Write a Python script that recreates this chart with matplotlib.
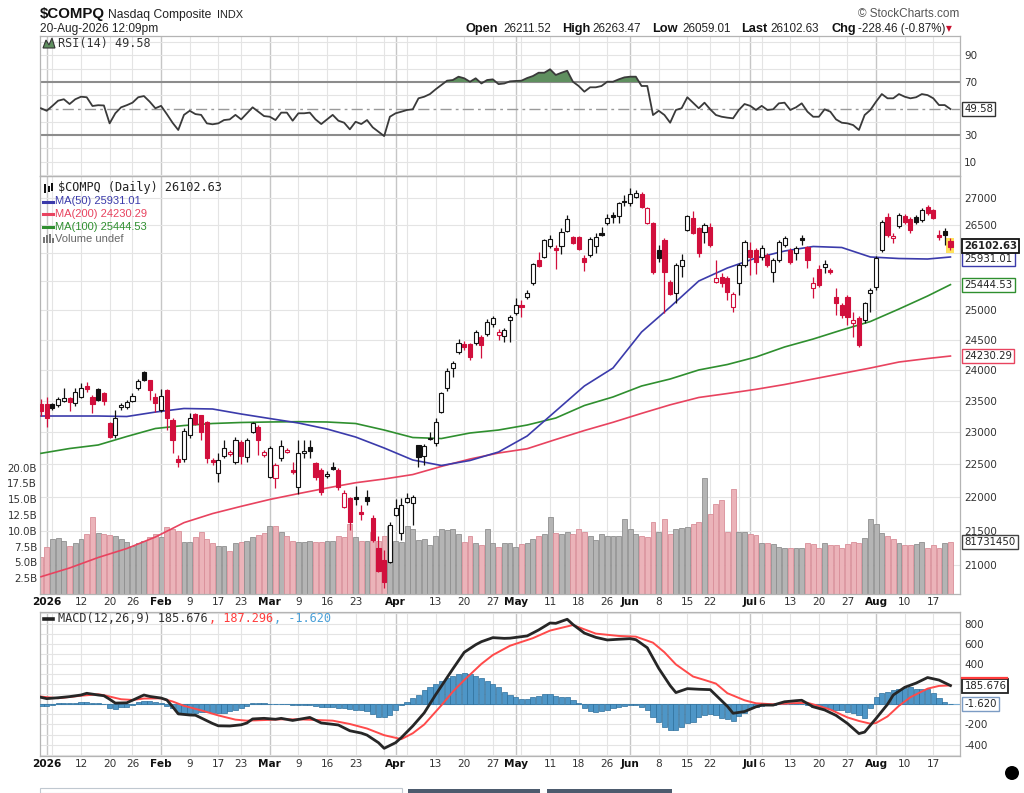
import numpy as np
import pandas as pd
import matplotlib
matplotlib.use("Agg")
import matplotlib.pyplot as plt
import matplotlib.transforms as mtrans
from matplotlib.patches import Rectangle, Ellipse, Polygon
from matplotlib.lines import Line2D
from matplotlib.ticker import NullLocator, NullFormatter

# ------------------------------------------------------------------ data
START, END = "2025-12-31", "2026-08-20"
HOLIDAYS = ["2026-01-01", "2026-01-19", "2026-02-16", "2026-04-03",
            "2026-05-25", "2026-06-19", "2026-07-03"]

OPEN = [
    23447, 23447, 23447, 23431, 23495, 23544, 23463, 23560, 23738, 23560,
    23689, 23624, 23143, 22954, 23399, 23399, 23495, 23705, 23966, 23835,
    23560, 23351, 23673, 23191, 22580, 22580, 22954, 23287, 23271, 23159,
    22564, 22364, 22626, 22657, 22533, 22844, 22611, 23001, 23080, 22642,
    22303, 22288, 22595, 22688, 22410, 22151, 22673, 22766, 22518, 22410,
    22318, 22456, 22410, 21849, 21985, 22000, 21775, 22000, 21686, 21244,
    21070, 21041, 21730, 21464, 21925, 21910, 22797, 22626, 22891, 22829,
    23319, 23705, 24032, 24297, 24430, 24430, 24447, 24548, 24599, 24767,
    24582, 24565, 24835, 24955, 25092, 25230, 25473, 25877, 25930, 26127,
    26091, 26127, 26397, 26288, 26288, 25913, 25966, 26127, 26361, 26541,
    26687, 26669, 26945, 26908, 27019, 27074, 26541, 26541, 26055, 26234,
    25490, 25299, 25771, 26415, 26632, 26451, 26379, 26469, 25490, 25578,
    25560, 25058, 25473, 25789, 26055, 26055, 25930, 25966, 25666, 25877,
    26145, 26055, 26001, 26270, 26109, 25386, 25718, 25754, 25701, 25230,
    25092, 25230, 24784, 24869, 24835, 25299, 25403, 26055, 26650, 26270,
    26487, 26669, 26614, 26650, 26596, 26834, 26779, 26324, 26397, 26211.52]
HIGH = [
    23527, 23560, 23463, 23560, 23705, 23560, 23705, 23786, 23802, 23592,
    23705, 23641, 23159, 23351, 23463, 23511, 23624, 23851, 23983, 23835,
    23624, 23689, 23689, 23223, 22642, 23064, 23303, 23303, 23271, 23175,
    22595, 22673, 22876, 22719, 22923, 22876, 22907, 23159, 23112, 22719,
    22782, 22518, 22876, 22750, 22533, 22876, 22876, 22876, 22533, 22441,
    22395, 22533, 22441, 22105, 22000, 22166, 21879, 22105, 21730, 21420,
    21215, 21626, 21970, 21985, 22060, 22030, 22800, 22813, 23001, 23223,
    23641, 24032, 24148, 24514, 24481, 24447, 24666, 24582, 24852, 24904,
    24683, 24700, 24921, 25213, 25178, 25351, 25824, 26019, 26252, 26324,
    26145, 26451, 26687, 26306, 26306, 25966, 26288, 26361, 26469, 26705,
    26742, 26926, 27056, 27185, 27148, 27111, 26834, 26560, 26145, 26270,
    25525, 25824, 25984, 26687, 26761, 26469, 26541, 26541, 25877, 25648,
    25596, 25316, 25824, 26234, 26198, 26091, 26145, 26001, 25913, 26234,
    26306, 26091, 26127, 26324, 26127, 25578, 25789, 25877, 25736, 25386,
    25126, 25264, 24972, 24904, 25143, 25386, 25948, 26596, 26724, 26361,
    26724, 26705, 26650, 26687, 26816, 26871, 26797, 26415, 26451, 26263.47]
LOW = [
    23255, 23080, 23351, 23399, 23479, 23335, 23415, 23544, 23641, 23303,
    23495, 23431, 22907, 22907, 23351, 23367, 23479, 23673, 23819, 23511,
    23319, 23319, 23033, 22673, 22456, 22533, 22907, 23112, 22876, 22518,
    22487, 22227, 22595, 22626, 22502, 22502, 22533, 22986, 22642, 22611,
    22288, 22135, 22549, 22673, 22349, 22045, 22595, 22595, 22257, 22030,
    22288, 22410, 22105, 21835, 21508, 21879, 21656, 21879, 21332, 20899,
    20670, 21027, 21715, 21361, 21910, 21582, 22456, 22487, 22876, 22782,
    23303, 23657, 23884, 24264, 24330, 24164, 24414, 24198, 24565, 24716,
    24497, 24464, 24464, 24921, 24886, 25195, 25438, 25754, 25913, 26091,
    25718, 25984, 26379, 26163, 26055, 25683, 25930, 26001, 26306, 26505,
    26541, 26541, 26853, 26853, 27000, 26816, 26523, 25631, 25842, 24955,
    25264, 25126, 25578, 26397, 26342, 25930, 26181, 26109, 25473, 25403,
    25178, 24972, 25264, 25754, 25613, 25631, 25877, 25754, 25490, 25842,
    26109, 25807, 25877, 26145, 25736, 25213, 25403, 25648, 25631, 24921,
    24869, 24750, 24548, 24380, 24784, 24972, 25351, 26019, 26288, 26181,
    26451, 26523, 26361, 26523, 26560, 26687, 26614, 26234, 26145, 26059.01]
CLOSE = [
    23335, 23223, 23383, 23527, 23544, 23479, 23641, 23705, 23689, 23447,
    23511, 23495, 22923, 23223, 23431, 23479, 23576, 23819, 23835, 23673,
    23463, 23576, 23223, 22876, 22533, 23017, 23223, 23128, 23001, 22595,
    22533, 22564, 22750, 22688, 22876, 22626, 22876, 23143, 22876, 22688,
    22750, 22487, 22782, 22719, 22379, 22673, 22704, 22711, 22303, 22075,
    22349, 22426, 22151, 22060, 21626, 21970, 21745, 21940, 21361, 20913,
    20756, 21582, 21835, 21879, 21985, 22000, 22611, 22782, 22907, 23159,
    23624, 23983, 24115, 24447, 24380, 24214, 24632, 24414, 24801, 24869,
    24632, 24666, 24886, 25092, 25058, 25299, 25806, 25771, 26234, 26252,
    26055, 26379, 26614, 26181, 26073, 25842, 26252, 26288, 26324, 26632,
    26650, 26908, 26926, 27074, 27093, 26834, 26816, 25666, 25913, 25666,
    25282, 25789, 25877, 26669, 26361, 26001, 26505, 26145, 25560, 25473,
    25316, 25282, 25789, 26198, 25930, 25842, 26091, 25789, 25877, 26198,
    26270, 25842, 26091, 26234, 25877, 25473, 25438, 25807, 25666, 25126,
    24921, 24886, 24835, 24414, 25126, 25351, 25913, 26560, 26324, 26306,
    26687, 26560, 26415, 26560, 26779, 26724, 26632, 26288, 26331.09, 26102.63]
VOLUME_B = [
    5.8, 7.4, 8.7, 8.9, 8.4, 7.6, 8.0, 8.7, 9.5, 12.2,
    9.6, 9.5, 9.4, 9.2, 8.7, 8.2, 7.6, 8.0, 8.4, 9.0,
    9.5, 9.0, 10.6, 10.3, 9.9, 8.2, 8.2, 9.0, 9.8, 8.7,
    8.0, 7.6, 7.6, 6.8, 8.0, 8.2, 8.4, 9.0, 9.4, 9.6,
    10.8, 10.8, 9.8, 9.2, 8.4, 8.2, 8.2, 8.4, 8.2, 8.2,
    8.4, 8.4, 9.2, 9.0, 11.1, 9.0, 8.4, 8.4, 9.8, 8.4,
    9.2, 10.8, 8.4, 8.2, 10.8, 10.3, 8.6, 8.7, 7.8, 9.1,
    10.2, 10.1, 10.2, 9.5, 8.3, 9.2, 8.0, 7.8, 10.2, 8.0,
    7.4, 8.1, 8.0, 7.4, 7.9, 8.0, 8.7, 9.1, 9.5, 12.1,
    9.6, 9.5, 9.8, 9.5, 10.3, 9.8, 9.2, 8.6, 9.5, 9.2,
    9.1, 9.1, 11.8, 10.2, 9.5, 9.2, 9.0, 11.4, 9.8, 11.9,
    9.5, 10.2, 10.5, 10.6, 11.0, 11.4, 18.3, 12.7, 14.3, 14.9,
    9.8, 16.6, 9.8, 9.8, 9.5, 9.4, 8.0, 8.1, 7.9, 7.4,
    7.2, 7.2, 7.3, 7.3, 8.1, 7.9, 7.2, 8.0, 7.7, 7.7,
    7.2, 7.9, 8.3, 8.1, 8.9, 11.9, 11.1, 9.6, 9.1, 8.7,
    8.0, 7.7, 7.7, 7.9, 8.3, 7.2, 7.7, 7.2, 8.1, 8.2]
RSI = [
    50.2, 48.3, 52.0, 55.9, 57.0, 53.4, 57.0, 58.9, 58.5, 51.9,
    52.5, 52.3, 38.8, 46.4, 50.9, 52.5, 54.4, 58.5, 59.4, 55.2,
    50.2, 52.0, 45.8, 39.3, 33.8, 45.2, 48.3, 45.8, 45.2, 38.8,
    38.1, 38.8, 41.3, 41.8, 45.2, 41.8, 46.4, 50.9, 47.6, 44.3,
    43.8, 41.3, 46.9, 46.9, 40.8, 46.4, 46.4, 46.9, 41.8, 38.3,
    41.8, 45.2, 40.8, 39.3, 34.3, 40.0, 38.3, 41.3, 35.8, 32.5,
    29.2, 43.8, 46.4, 47.6, 48.9, 49.4, 57.7, 58.9, 60.9, 64.5,
    67.7, 71.0, 71.5, 74.0, 72.8, 70.2, 72.8, 68.9, 71.5, 72.0,
    68.4, 68.9, 70.5, 70.8, 71.0, 73.0, 74.5, 77.0, 77.0, 79.6,
    75.3, 77.0, 78.5, 70.2, 67.0, 62.7, 66.0, 66.0, 67.0, 70.2,
    70.2, 72.0, 73.5, 74.0, 74.0, 67.0, 67.0, 45.1, 48.3, 45.1,
    39.3, 48.9, 50.2, 58.5, 54.4, 50.2, 54.4, 49.4, 45.1, 43.8,
    43.1, 42.6, 48.9, 53.4, 52.0, 48.9, 52.0, 48.9, 49.4, 53.9,
    54.4, 48.9, 50.9, 53.9, 47.6, 43.8, 43.8, 49.4, 47.6, 41.8,
    39.3, 38.8, 37.5, 33.8, 45.1, 48.9, 55.2, 60.9, 57.7, 57.7,
    60.9, 58.9, 57.7, 58.5, 60.9, 60.1, 57.7, 52.6, 52.6, 49.58]

MA_IDX = [-1, 4, 9, 14, 19, 24, 29, 34, 39, 44, 49, 54, 59, 64, 69, 74, 79,
          84, 89, 94, 99, 104, 109, 114, 119, 124, 129, 134, 139, 144, 149, 154, 158]
MA50 = [23255, 23255, 23255, 23247, 23318, 23375, 23367, 23287, 23215, 23144,
        23049, 22923, 22751, 22565, 22480, 22557, 22689, 22939, 23335, 23738,
        24032, 24632, 25058, 25508, 25736, 25913, 26037, 26118, 26100, 25931,
        25904, 25895, 25931.01]
MA100 = [22668, 22743, 22798, 22931, 23057, 23104, 23136, 23152, 23160, 23165,
         23160, 23136, 23033, 22915, 22899, 22986, 23033, 23112, 23223, 23423,
         23560, 23738, 23852, 24000, 24090, 24214, 24381, 24514, 24666, 24810,
         25023, 25247, 25444.53]
MA200 = [20831, 20956, 21107, 21237, 21405, 21617, 21752, 21860, 21963, 22051,
         22136, 22216, 22273, 22341, 22466, 22580, 22673, 22740, 22884, 23025,
         23155, 23297, 23434, 23552, 23616, 23684, 23762, 23852, 23942, 24032,
         24131, 24189, 24230.29]

MACD_IDX = [-1, 0, 2, 4, 6, 7, 9, 10, 11, 12, 14, 15, 17, 18, 20, 21, 22, 23, 25, 26,
            27, 29, 30, 32, 34, 35, 36, 38, 40, 41, 43, 44, 46, 48, 50, 51, 53, 55, 56, 58,
            59, 61, 62, 64, 66, 68, 69, 71, 73, 75, 76, 78, 80, 81, 84, 86, 88, 89, 91, 92,
            94, 96, 98, 100, 102, 103, 105, 107, 109, 110, 112, 114, 116, 117, 119, 120, 122,
            124, 125, 127, 129, 131, 132, 134, 136, 138, 140, 142, 143, 145, 147, 148, 150,
            152, 154, 156, 158]
MACD_VAL = [69, 56, 65, 76, 92, 109, 92, 85, 50, 12, 15, 40, 92, 78, 62, 43, -23, -95, -106, -108,
            -135, -190, -213, -215, -203, -185, -145, -139, -148, -139, -160, -150, -130, -185, -198, -205, -262, -285, -305, -380,
            -436, -380, -330, -215, -85, 95, 180, 350, 515, 590, 620, 660, 653, 655, 677, 736, 805, 802, 842, 790,
            705, 663, 637, 644, 650, 640, 560, 356, 185, 116, 155, 149, 145, 90, -20, -89, -72,
            -25, -8, -8, 25, 36, 40, -25, -56, -110, -190, -290, -275, -140, 0, 92, 168,
            210, 265, 240, 185.676]
SIGNAL_IDX = [-1, 2, 6, 9, 10, 13, 15, 17, 20, 22, 24, 27, 30, 33, 35, 38, 41, 44, 47, 50,
              53, 56, 59, 62, 64, 66, 69, 71, 73, 76, 78, 81, 85, 88, 92, 96, 100, 103, 106, 108,
              110, 113, 115, 117, 119, 122, 124, 127, 130, 133, 135, 137, 140, 142, 144, 145, 147, 149,
              151, 154, 156, 158]
SIGNAL_VAL = [76, 60, 85, 99, 90, 50, 43, 57, 59, 28, -15, -60, -110, -152, -162, -156, -149, -149, -155, -162,
              -195, -240, -306, -345, -287, -200, -10, 125, 240, 400, 488, 580, 655, 730, 785, 700, 677, 670, 610, 515,
              395, 275, 241, 205, 110, 40, 10, 0, 10, 15, -17, -52, -130, -165, -192, -185, -120, -15,
              70, 155, 182, 187.296]
HIST = [
    -16, -16, -10, 10, 15, 16, 16, 20, 22, 16,
    12, 5, -35, -50, -30, -23, -10, 20, 33, 33,
    20, 10, -20, -40, -80, -89, -83, -83, -73, -75,
    -85, -89, -85, -70, -56, -35, -15, 10, 16, 12,
    5, 0, 3, 3, -5, -3, -5, -10, -20, -30,
    -30, -28, -32, -35, -50, -56, -56, -70, -100, -122,
    -122, -106, -56, -7, 26, 59, 92, 142, 168, 201,
    234, 257, 281, 300, 307, 300, 281, 257, 231, 201,
    168, 125, 92, 76, 50, 55, 76, 80, 99, 99,
    80, 76, 76, 43, 10, -33, -66, -73, -66, -56,
    -40, -30, -20, -10, -10, -23, -56, -122, -172, -221,
    -254, -254, -221, -190, -172, -130, -106, -100, -110, -139,
    -150, -162, -120, -89, -40, -30, -17, -10, -5, 0,
    5, 5, 3, 0, -10, -25, -30, -40, -50, -56,
    -60, -75, -89, -110, -139, -40, 76, 110, 125, 140,
    149, 160, 168, 155, 149, 149, 109, 59, 26, -1.62]

PRICE_TICKS = [21000, 21500, 22000, 22500, 23000, 23500, 24000, 24500,
               25000, 25500, 26000, 26500, 27000]
PRICE_LABELED = [21000, 21500, 22000, 22500, 23000, 23500, 24000, 24500,
                 25000, 26500, 27000]
VOL_TICKS = [2.5, 5.0, 7.5, 10.0, 12.5, 15.0, 17.5, 20.0]
RSI_TICKS = [10, 30, 70, 90]
MACD_TICKS = [-400, -200, 400, 600, 800]
TICK_LABELS = [
    ("2026-01-02", "2026"), ("2026-01-12", "12"), ("2026-01-20", "20"), ("2026-01-26", "26"),
    ("2026-02-02", "Feb"), ("2026-02-09", "9"), ("2026-02-17", "17"), ("2026-02-23", "23"),
    ("2026-03-02", "Mar"), ("2026-03-09", "9"), ("2026-03-16", "16"), ("2026-03-23", "23"),
    ("2026-04-01", "Apr"), ("2026-04-13", "13"), ("2026-04-20", "20"), ("2026-04-27", "27"),
    ("2026-05-01", "May"), ("2026-05-11", "11"), ("2026-05-18", "18"), ("2026-05-26", "26"),
    ("2026-06-01", "Jun"), ("2026-06-08", "8"), ("2026-06-15", "15"), ("2026-06-22", "22"),
    ("2026-07-01", "Jul"), ("2026-07-06", "6"), ("2026-07-13", "13"), ("2026-07-20", "20"),
    ("2026-07-27", "27"), ("2026-08-03", "Aug"), ("2026-08-10", "10"), ("2026-08-17", "17")]

# ------------------------------------------------------------------ prep
dates = [d for d in pd.bdate_range(START, END) if d.strftime("%Y-%m-%d") not in HOLIDAYS]
xs = np.arange(len(dates)) - 1
pos_of = {d.strftime("%Y-%m-%d"): x for d, x in zip(dates, xs)}

O = np.array(OPEN, float); Hh = np.array(HIGH, float)
Lw = np.array(LOW, float); C = np.array(CLOSE, float)
prev = np.concatenate([[O[0]], C[:-1]])
up = C >= prev
hollow = C > O
RED = "#d10f3c"
BLK = "#111111"
edge = np.where(up, BLK, RED)
face = ["white" if h else e for h, e in zip(hollow, edge)]

FW, FH = 1024.0, 793.0
def fx(px):
    return px / FW
def fy(py):
    return 1 - py / FH

GRID_C = "#e4e4e4"
MONTH_C = "#c6c6c6"
SPINE_C = "#b4b4b4"
BLUE = "#3b3bab"
GREEN = "#2f8f2f"
PINKRED = "#e8435f"

fig = plt.figure(figsize=(10.24, 7.93), dpi=100)
fig.patch.set_facecolor("white")
L0, W0 = fx(40), 920 / FW
axv = fig.add_axes([L0, fy(594), W0, 418 / FH])
axr = fig.add_axes([L0, fy(176), W0, 140 / FH], sharex=axv)
axp = fig.add_axes([L0, fy(594), W0, 418 / FH], sharex=axv)
axm = fig.add_axes([L0, fy(756), W0, 144 / FH], sharex=axv)
axp.patch.set_visible(False)

axv.set_xlim(-1.17, 159.67)
axv.set_xticks([])

# vertical grid lines
week_lines, month_lines = [], []
for k in range(1, len(dates)):
    d0, d1 = dates[k - 1], dates[k]
    if d1.month != d0.month:
        month_lines.append(xs[k])
    elif d1.weekday() < d0.weekday():
        week_lines.append(xs[k])
for ax in (axr, axv, axm):
    for x in week_lines:
        ax.axvline(x, color=GRID_C, lw=0.8, zorder=0)
    for x in month_lines:
        ax.axvline(x, color=MONTH_C, lw=1.0, zorder=0)

for ax in (axr, axv, axm):
    for s in ax.spines.values():
        s.set_color(SPINE_C)
        s.set_linewidth(0.9)
for s in axp.spines.values():
    s.set_visible(False)

# ------------------------------------------------------------------ price panel
axp.set_yscale("log")
axp.set_ylim(20586, 27410)
tr = mtrans.blended_transform_factory(axv.transAxes, axp.transData)
for p in PRICE_TICKS:
    axv.add_line(Line2D([0, 1], [p, p], transform=tr, color=GRID_C, lw=0.8, zorder=0))

vcol = np.where(up, "#b4b4b4", "#ebb3b9")
vedge = np.where(up, "#8f8f8f", "#d98f99")
axv.bar(xs, VOLUME_B, width=0.86, color=vcol, edgecolor=vedge, lw=0.6, zorder=2)
axv.set_ylim(0, 66.1)
axv.set_yticks(VOL_TICKS, [f"{v:.1f}B" for v in VOL_TICKS])
axv.yaxis.set_ticks_position("left")
axv.tick_params(axis="y", length=0, pad=2, labelsize=7.4, labelcolor="#333333")

axp.plot(MA_IDX, MA200, color=PINKRED, lw=1.2, zorder=2)
axp.plot(MA_IDX, MA100, color=GREEN, lw=1.2, zorder=2)
axp.plot(MA_IDX, MA50, color=BLUE, lw=1.2, zorder=2)

axp.add_patch(Rectangle((xs[-1] - 0.7, 26000), 1.4, 275, fc="#ffe25c", ec="none", zorder=2.6))
axp.vlines(xs, Lw, Hh, colors=edge, lw=0.9, zorder=3)
bottoms = np.minimum(O, C)
heights = np.maximum(np.abs(C - O), 1e-6)
axp.bar(xs, heights, bottom=bottoms, width=0.72, color=face, edgecolor=edge, lw=0.8, zorder=4)

axp.yaxis.set_ticks_position("right")
axp.set_yticks(PRICE_LABELED, [str(p) for p in PRICE_LABELED])
axp.yaxis.set_minor_locator(NullLocator())
axp.yaxis.set_minor_formatter(NullFormatter())
axp.tick_params(axis="y", length=0, pad=3, labelsize=7.5, labelcolor="#333333")
axp.tick_params(axis="x", bottom=False, labelbottom=False)

# ------------------------------------------------------------------ RSI panel
rsi = np.array(RSI)
for v in range(0, 101, 10):
    if v not in (30, 50, 70):
        axr.axhline(v, color=GRID_C, lw=0.8, zorder=0)
axr.axhline(70, color="#8c8c8c", lw=1.5, zorder=2)
axr.axhline(30, color="#8c8c8c", lw=1.5, zorder=2)
axr.axhline(50, color="#9a9a9a", lw=1.0, dashes=(8, 3, 2, 3), zorder=2)
axr.fill_between(xs, rsi, 70, where=rsi > 70, interpolate=True, color="#5f8f5f", lw=0, zorder=3)
axr.plot(xs, rsi, color="#3a3a3a", lw=1.3, zorder=4)
axr.set_ylim(-0.9, 104.7)
axr.yaxis.set_ticks_position("right")
axr.set_yticks(RSI_TICKS, [str(v) for v in RSI_TICKS])
axr.tick_params(axis="y", length=0, pad=3, labelsize=7.5, labelcolor="#333333")
axr.tick_params(axis="x", bottom=False, labelbottom=False)

# ------------------------------------------------------------------ MACD panel
for v in range(-500, 901, 100):
    axm.axhline(v, color=GRID_C, lw=0.8, zorder=0)
axm.bar(xs, HIST, width=0.9, color="#4e96c7", edgecolor="#2d6f9c", lw=0.5, zorder=3)
axm.axhline(0, color="#7aaed4", lw=0.8, zorder=2)
axm.plot(SIGNAL_IDX, SIGNAL_VAL, color="#ff4a4a", lw=1.4, zorder=4)
axm.plot(MACD_IDX, MACD_VAL, color="#262626", lw=2.0, zorder=5)
axm.set_ylim(-512, 914)
axm.yaxis.set_ticks_position("right")
axm.set_yticks(MACD_TICKS, [str(v) for v in MACD_TICKS])
axm.tick_params(axis="y", length=0, pad=3, labelsize=7.5, labelcolor="#333333")
axm.tick_params(axis="x", bottom=False, labelbottom=False)

# ------------------------------------------------------------------ x labels
for ax in (axv, axm):
    for ds, lab in TICK_LABELS:
        bold = not lab.isdigit() or lab == "2026"
        ax.annotate(lab, xy=(pos_of[ds], 0), xycoords=("data", "axes fraction"),
                    xytext=(0, -2.5), textcoords="offset points", ha="center", va="top",
                    fontsize=7.6, fontweight="bold" if bold else "normal",
                    color="#111111" if bold else "#333333", annotation_clip=False)

# ------------------------------------------------------------------ value tags
def tag(ax, yval, text, ec, weight="normal", z=10, dy=0, lw=1.0, tc="#222222"):
    ax.annotate(text, xy=(1.0, yval), xycoords=ax.get_yaxis_transform(),
                xytext=(3.2, dy), textcoords="offset points", ha="left", va="center",
                fontsize=7.3, fontweight=weight, color=tc, zorder=z,
                bbox=dict(boxstyle="square,pad=0.2", fc="white", ec=ec, lw=lw),
                annotation_clip=False)

tag(axp, 24230.29, "24230.29", PINKRED)
tag(axp, 25444.53, "25444.53", GREEN)
tag(axp, 25931.01, "25931.01", BLUE, z=11, dy=-1.5)
tag(axp, CLOSE[-1], "26102.63", "#111111", weight="bold", z=12, lw=1.3, dy=1)
tag(axv, VOLUME_B[-1], "81731450", "#444444")
tag(axr, RSI[-1], "49.58", "#333333")
tag(axm, 185.676, "185.676", "#222222", z=11, lw=1.3)
tag(axm, HIST[-1], "-1.620", "#7c9cc4")
# signal-line tag (187.296) sits behind the MACD tag: only its red top edge shows
fig.add_artist(Line2D([fx(962), fx(1007)], [fy(677.5), fy(677.5)], transform=fig.transFigure,
                      color="#ff3b3b", lw=1.6))

# ------------------------------------------------------------------ header
def ft(px, py, s, **kw):
    kw.setdefault("va", "center")
    kw.setdefault("ha", "left")
    fig.text(fx(px), fy(py), s, **kw)

SANS = "Liberation Sans"
ft(40, 14, "$COMPQ", fontsize=10.8, fontweight="bold", family=SANS, color="#111111")
ft(108, 15, "Nasdaq Composite", fontsize=8.7, family=SANS, color="#222222")
ft(217, 15, "INDX", fontsize=7.9, family=SANS, color="#222222")
ft(40, 29, "20-Aug-2026 12:09pm", fontsize=8.6, family=SANS, color="#222222")
ft(959, 14, "\u00a9 StockCharts.com", fontsize=8.5, family=SANS, color="#555555", ha="right")
for px, s, b in [(466, "Open", True), (503, "26211.52", False), (562, "High", True),
                 (592, "26263.47", False), (652, "Low", True), (682, "26059.01", False),
                 (741, "Last", True), (770, "26102.63", False), (831, "Chg", True),
                 (858, "-228.46 (-0.87%)", False)]:
    ft(px, 29, s, fontsize=9.2 if b else 8.4, family=SANS, fontweight="bold" if b else "normal",
       color="#111111" if b else "#222222")
ft(946, 29, "\u25bc", fontsize=5.5, color="#c8102e", family="DejaVu Sans")

MONO = "DejaVu Sans Mono"
# RSI legend
fig.add_artist(Polygon([(fx(43), fy(48)), (fx(46), fy(40)), (fx(49), fy(45)), (fx(52), fy(38)),
                        (fx(55), fy(48))], closed=True, transform=fig.transFigure,
                       fc="#5f8f5f", ec="#333333", lw=0.8))
ft(58, 43, "RSI(14) 49.58", fontsize=8.5, family=MONO, color="#333333")

# price legend
for bx, by0, by1, col in [(44, 184, 193, "#111111"), (47.5, 186, 192, "#111111"), (51, 183, 191, "#111111")]:
    fig.add_artist(Rectangle((fx(bx), fy(by1)), 2.2 / FW, (by1 - by0) / FH,
                             transform=fig.transFigure, fc=col, ec="none"))
ft(58, 188, "$COMPQ (Daily) 26102.63", fontsize=8.6, family=MONO, color="#222222")
for py, col, s in [(201.5, BLUE, "MA(50) 25931.01"), (214, PINKRED, "MA(200) 24230.29"),
                   (226.5, GREEN, "MA(100) 25444.53")]:
    fig.add_artist(Line2D([fx(43), fx(53)], [fy(py), fy(py)], transform=fig.transFigure,
                          color=col, lw=2.2))
    ft(55, py, s, fontsize=8.0, family=SANS, color=col)
for bx, h in [(43, 6), (46, 8), (49, 9), (52, 5)]:
    fig.add_artist(Rectangle((fx(bx), fy(243)), 2.2 / FW, h / FH,
                             transform=fig.transFigure, fc="#777777", ec="none"))
ft(55, 238.5, "Volume undef", fontsize=8.0, family=SANS, color="#666666")

# MACD legend
fig.add_artist(Line2D([fx(44), fx(53)], [fy(619), fy(619)], transform=fig.transFigure,
                      color="#222222", lw=2.6))
cw = 0.602 * 8.6 * 100 / 72
p1 = "MACD(12,26,9) 185.676"
p2 = ", 187.296"
ft(58, 619, p1, fontsize=8.6, family=MONO, color="#333333")
ft(58 + len(p1) * cw, 619, p2, fontsize=8.6, family=MONO, color="#ff3b3b")
ft(58 + (len(p1) + len(p2)) * cw, 619, ", -1.620", fontsize=8.6, family=MONO, color="#4aa0d8")

# bottom page artefacts
fig.add_artist(Ellipse((fx(1012), fy(773)), 14 / FW, 14 / FH, transform=fig.transFigure,
                       fc="black", ec="none"))
fig.add_artist(Rectangle((fx(40), fy(793)), 362 / FW, 5 / FH, transform=fig.transFigure,
                         fc="white", ec="#c0c8d0", lw=0.8))
for a, b in [(408, 540), (547, 672)]:
    fig.add_artist(Rectangle((fx(a), fy(793)), (b - a) / FW, 4 / FH, transform=fig.transFigure,
                             fc="#4d5b6e", ec="none"))

fig.savefig("out.png", dpi=100)
